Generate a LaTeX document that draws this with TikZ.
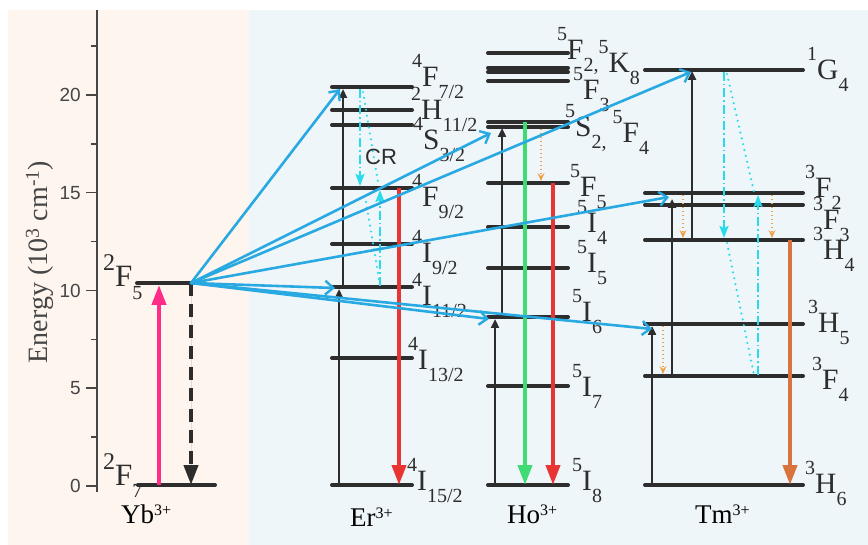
\documentclass[tikz,border=0pt]{standalone}
\usepackage{fontspec}
\setmainfont{Liberation Serif}
\setsansfont{Liberation Sans}
\usetikzlibrary{arrows.meta}

\definecolor{bgYb}{RGB}{253,245,238}
\definecolor{bgRE}{RGB}{238,246,250}
\definecolor{lvl}{RGB}{45,45,45}
\definecolor{axisc}{RGB}{70,70,70}
\definecolor{pump}{RGB}{41,169,225}
\definecolor{pinkex}{RGB}{255,45,135}
\definecolor{redem}{RGB}{232,52,50}
\definecolor{greenem}{RGB}{62,220,115}
\definecolor{orangeem}{RGB}{217,115,62}
\definecolor{nrorange}{RGB}{240,160,70}
\definecolor{crcyan}{RGB}{40,220,235}

% spectroscopic term: ^{#1}#2_{#3}
\newcommand\term[3]{{\fontsize{20}{20}\selectfont\raisebox{19pt}{#1}}#2{\fontsize{20}{20}\selectfont\raisebox{-12pt}{#3}}}
\newcommand\bigterm[3]{{\fontsize{24}{24}\selectfont\raisebox{16pt}{#1}}#2{\fontsize{20}{20}\selectfont\raisebox{-13pt}{#3}}}
\newcommand\ionname[2]{#1{\fontsize{16}{16}\selectfont\raisebox{8pt}{#2}}}

\tikzset{
  level/.style={draw=lvl, line width=4pt, line cap=round},
  lab/.style={anchor=base west, inner sep=0pt, font=\fontsize{29.5}{29.5}\selectfont, text=lvl},
  biglab/.style={anchor=base west, inner sep=0pt, font=\fontsize{31}{31}\selectfont, text=lvl},
  ionlab/.style={anchor=base west, inner sep=0pt, font=\fontsize{27}{27}\selectfont, text=black},
  pumparrow/.style={draw=pump, line width=2.6pt, line cap=round,
    -{Straight Barb[length=8pt,width=14pt,line width=2.4pt]}},
  uparrow/.style={draw=lvl, line width=2.4pt, -{Triangle[length=9pt,width=8pt]}},
  emis/.style={line width=4pt, -{Triangle[length=20pt,width=14pt]}},
  nrarrow/.style={draw=nrorange, line width=1.6pt, dash pattern=on 1.5pt off 2.5pt,
    -{Stealth[length=8pt,width=7pt,inset=3pt]}},
  crarrow/.style={draw=crcyan, line width=1.8pt, dash pattern=on 9pt off 3pt on 1.5pt off 3pt,
    -{Stealth[length=12pt,width=9pt,inset=2pt]}},
  crdot/.style={draw=crcyan, line width=2.4pt, line cap=round, dash pattern=on 0pt off 6pt},
}

\begin{document}
\begin{tikzpicture}[x=1pt, y=-1pt]
\useasboundingbox (0,0) rectangle (868,545);

% backgrounds
\fill[bgYb] (8,10) rectangle (249,545);
\fill[bgRE] (249,10) rectangle (868,545);

% energy axis
\draw[axisc, line width=1.5pt] (97,10) -- (97,492);
\foreach \e in {0,5,10,15,20}{
  \pgfmathsetmacro\yy{486-19.55*\e}
  \draw[axisc, line width=1.5pt] (86,\yy) -- (97,\yy);
  \node[anchor=east, inner sep=0pt, font=\sffamily\fontsize{19}{19}\selectfont, text=axisc] (tick\e) at (81,\yy) {\e};
}
\foreach \e in {2.5,7.5,12.5,17.5,22.5}{
  \pgfmathsetmacro\yy{486-19.55*\e}
  \draw[axisc, line width=1.5pt] (91,\yy) -- (97,\yy);
}
\node[rotate=90, inner sep=0pt, font=\fontsize{28}{28}\selectfont, text=axisc] (ylabel) at (40,262)
  {Energy (10\textsuperscript{3} cm\textsuperscript{-1})};

% ---------- Yb ----------
\draw[level] (137,283) -- (200,283);
\draw[level] (138,485) -- (215,485);
\node[biglab] (ybF5) at (103,287) {\bigterm{2}{F}{5}};
\node[biglab] (ybF7) at (103,485) {\bigterm{2}{F}{7}};
\coordinate (ybtop) at (191,283);
\coordinate (ybbot) at (191,485);
\coordinate (ybpb) at (159,485);
\coordinate (ybpt) at (159,285);
\draw[emis, draw=pinkex, fill=pinkex] (ybpb) -- (ybpt);
\draw[emis, draw=lvl, fill=lvl, dash pattern=on 13pt off 8pt] (ybtop) -- (ybbot);

% ---------- Er ----------
\foreach \y in {87,110,125,188,244,287,358,485}
  \draw[level] (332,\y) -- (412,\y);
\node[lab] (erA) at (412,87)  {\term{4}{F}{7/2}};
\node[lab] (erB) at (411,120) {\term{2}{H}{11/2}};
\node[lab] (erC) at (413,150) {\term{4}{S}{3/2}};
\node[lab] (erD) at (412,207) {\term{4}{F}{9/2}};
\node[lab] (erE) at (412,263) {\term{4}{I}{9/2}};
\node[lab] (erF) at (412,306) {\term{4}{I}{11/2}};
\node[lab] (erG) at (408,370) {\term{4}{I}{13/2}};
\node[lab] (erH) at (407,490) {\term{4}{I}{15/2}};

% ---------- Ho ----------
\foreach \y in {53,68,72,81,122,127,183,227,268,317,386,485}
  \draw[level] (488,\y) -- (568,\y);
\node[lab] (hoA) at (557,60)  {\term{5}{F}{2,}\raisebox{-13pt}{\term{5}{K}{8}}};
\node[lab] (hoB) at (573,100) {\term{5}{F}{3}};
\node[lab] (hoC) at (565,137) {\term{5}{S}{2,}\hspace{6pt}\raisebox{-6pt}{\term{5}{F}{4}}};
\node[lab] (hoD) at (570,197) {\term{5}{F}{5}};
\node[lab] (hoE) at (577,233) {\term{5}{I}{4}};
\node[lab] (hoF) at (577,273) {\term{5}{I}{5}};
\node[lab] (hoG) at (572,322) {\term{5}{I}{6}};
\node[lab] (hoH) at (572,397) {\term{5}{I}{7}};
\node[lab] (hoI) at (572,490) {\term{5}{I}{8}};

% ---------- Tm ----------
\foreach \y in {70,193,205,240,324,376,485}
  \draw[level] (645,\y) -- (803,\y);
\node[lab] (tmA) at (807,80)  {\term{1}{G}{4}};
\node[lab] (tmB) at (805,198) {\term{3}{F}{2}};
\node[lab] (tmC) at (813,230) {\term{3}{F}{3}};
\node[lab] (tmD) at (813,260) {\term{3}{H}{4}};
\node[lab] (tmE) at (808,333) {\term{3}{H}{5}};
\node[lab] (tmF) at (812,390) {\term{3}{F}{4}};
\node[lab] (tmG) at (805,493) {\term{3}{H}{6}};

% ion names
\node[ionlab] (ybname) at (121,523) {\ionname{Yb}{3+}};
\node[ionlab] (ername) at (350,526) {\ionname{Er}{3+}};
\node[ionlab] (honame) at (507,523) {\ionname{Ho}{3+}};
\node[ionlab] (tmname) at (695,523) {\ionname{Tm}{3+}};

% ---------- absorption steps (black) ----------
\coordinate (er0) at (339,485); \coordinate (er1) at (339,289);
\coordinate (er2) at (343,287); \coordinate (er3) at (343,89);
\draw[uparrow] (er0) -- (er1);
\draw[uparrow] (er2) -- (er3);
\coordinate (ho0) at (495,485); \coordinate (ho1) at (495,319);
\coordinate (ho2) at (502,317); \coordinate (ho3) at (502,128);
\draw[uparrow] (ho0) -- (ho1);
\draw[uparrow] (ho2) -- (ho3);
\coordinate (tm0) at (652,485); \coordinate (tm1) at (652,326);
\coordinate (tm2) at (672,376); \coordinate (tm3) at (672,199);
\coordinate (tm4) at (692,240); \coordinate (tm5) at (692,71);
\draw[uparrow] (tm0) -- (tm1);
\draw[uparrow] (tm2) -- (tm3);
\draw[uparrow] (tm4) -- (tm5);

% ---------- emissions ----------
\coordinate (erR0) at (399,188); \coordinate (erR1) at (399,485);
\draw[emis, draw=redem, fill=redem] (erR0) -- (erR1);
\coordinate (hoG0) at (525,122); \coordinate (hoG1) at (525,485);
\draw[emis, draw=greenem, fill=greenem] (hoG0) -- (hoG1);
\coordinate (hoR0) at (553,183); \coordinate (hoR1) at (553,485);
\draw[emis, draw=redem, fill=redem] (hoR0) -- (hoR1);
\coordinate (tmO0) at (790,240); \coordinate (tmO1) at (790,485);
\draw[emis, draw=orangeem, fill=orangeem] (tmO0) -- (tmO1);

% ---------- non-radiative relaxation ----------
\coordinate (hoN0) at (541,129); \coordinate (hoN1) at (541,181);
\draw[nrarrow] (hoN0) -- (hoN1);
\coordinate (tmN0) at (663,326); \coordinate (tmN1) at (663,374);
\draw[nrarrow] (tmN0) -- (tmN1);
\coordinate (tmN2) at (683,195); \coordinate (tmN3) at (683,238);
\draw[nrarrow] (tmN2) -- (tmN3);
\coordinate (tmN4) at (772,195); \coordinate (tmN5) at (772,238);
\draw[nrarrow] (tmN4) -- (tmN5);

% ---------- cross relaxation ----------
\coordinate (erC0) at (360,89);  \coordinate (erC1) at (360,186);
\coordinate (erC2) at (380,286); \coordinate (erC3) at (380,190);
\draw[crarrow] (erC0) -- (erC1);
\draw[crarrow] (erC2) -- (erC3);
\coordinate (erD0) at (363,92);  \coordinate (erD1) at (378,182);
\coordinate (erD2) at (365,196); \coordinate (erD3) at (380,285);
\draw[crdot] (erD0) -- (erD1);
\draw[crdot] (erD2) -- (erD3);
\node[anchor=base west, inner sep=0pt, font=\sffamily\fontsize{22}{22}\selectfont, text=lvl] (cr) at (365,165) {CR};

\coordinate (tmC0) at (724,72);  \coordinate (tmC1) at (724,238);
\coordinate (tmC2) at (758,375); \coordinate (tmC3) at (758,195);
\draw[crarrow] (tmC0) -- (tmC1);
\draw[crarrow] (tmC2) -- (tmC3);
\coordinate (tmD0) at (727,74);  \coordinate (tmD1) at (754,192);
\coordinate (tmD2) at (727,243); \coordinate (tmD3) at (754,375);
\draw[crdot] (tmD0) -- (tmD1);
\draw[crdot] (tmD2) -- (tmD3);

% ---------- energy transfer from Yb ----------
\coordinate (tEr1) at (340,89);
\coordinate (tEr2) at (335,288);
\coordinate (tHo1) at (491,133);
\coordinate (tHo2) at (489,319);
\coordinate (tTm1) at (691,72);
\coordinate (tTm2) at (669,197);
\coordinate (tTm3) at (652,329);
\foreach \t in {tEr1,tEr2,tHo1,tHo2,tTm1,tTm2,tTm3}
  \draw[pumparrow] (ybtop) -- (\t);
\end{tikzpicture}
\end{document}
